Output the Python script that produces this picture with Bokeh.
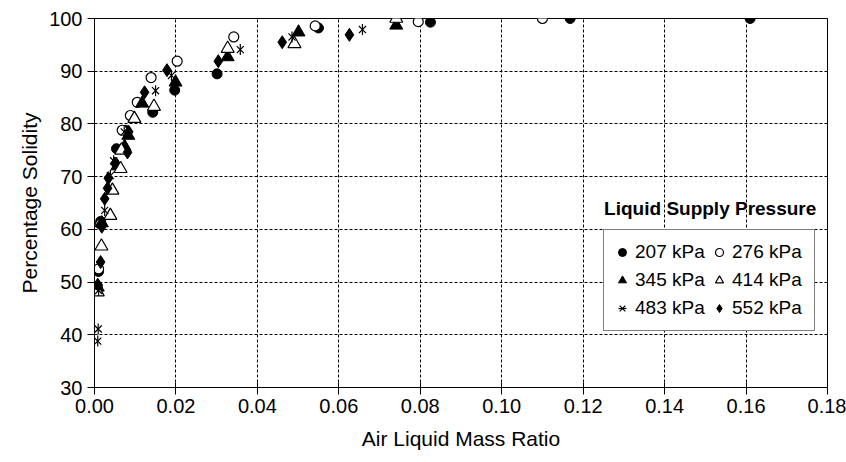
from bokeh.plotting import figure
from bokeh.models import Legend, LegendItem, Label, Range1d, FixedTicker, NumeralTickFormatter
from bokeh.embed import file_html
from bokeh.resources import INLINE
import math

# ---- data ----
x_207 = [0.0007, 0.0010, 0.0015, 0.0054, 0.0076, 0.0143, 0.0197, 0.0301, 0.0550, 0.0825, 0.1168, 0.1610]
y_207 = [49.2, 52.0, 61.5, 75.3, 78.8, 82.2, 86.4, 89.5, 98.2, 99.3, 100.0, 100.0]

x_276 = [0.0010, 0.0015, 0.0068, 0.0088, 0.0105, 0.0139, 0.0203, 0.0342, 0.0542, 0.0795, 0.1100]
y_276 = [52.5, 61.0, 78.8, 81.6, 84.1, 88.8, 91.9, 96.5, 98.6, 99.4, 100.0]

x_345 = [0.0008, 0.0018, 0.0056, 0.0074, 0.0083, 0.0117, 0.0199, 0.0327, 0.0501, 0.0741]
y_345 = [49.0, 61.2, 72.0, 75.7, 77.8, 83.9, 87.9, 92.7, 97.4, 98.7]

x_414 = [0.0008, 0.0017, 0.0039, 0.0044, 0.0064, 0.0066, 0.0098, 0.0146, 0.0327, 0.0491, 0.0741]
y_414 = [48.1, 56.8, 62.6, 67.4, 71.5, 75.0, 81.0, 83.3, 94.3, 95.2, 100.0]

x_483 = [0.0008, 0.0009, 0.0010, 0.0025, 0.0039, 0.0047, 0.0073, 0.0150, 0.0189, 0.0358, 0.0485, 0.0658]
y_483 = [38.8, 41.1, 48.4, 63.6, 70.2, 73.0, 78.5, 86.3, 89.2, 94.1, 96.5, 97.9]

x_552 = [0.0008, 0.0015, 0.0018, 0.0025, 0.0032, 0.0034, 0.0050, 0.0081, 0.0084, 0.0123, 0.0178, 0.0304, 0.0461, 0.0626]
y_552 = [49.5, 53.8, 60.5, 65.8, 67.8, 69.7, 72.5, 74.6, 78.5, 86.0, 90.2, 91.9, 95.5, 96.9]

x_ticks = [0.00, 0.02, 0.04, 0.06, 0.08, 0.10, 0.12, 0.14, 0.16, 0.18]
y_ticks = [30, 40, 50, 60, 70, 80, 90, 100]

FONT = "Liberation Sans"

p = figure(width=846, height=462, output_backend="svg", toolbar_location=None,
           x_range=Range1d(0, 0.18), y_range=Range1d(30, 100),
           min_border_left=94, min_border_right=19, min_border_top=18, min_border_bottom=75)
p.background_fill_color = "white"
p.border_fill_color = "white"
p.outline_line_color = "black"
p.outline_line_width = 1

p.xaxis.ticker = FixedTicker(ticks=x_ticks)
p.yaxis.ticker = FixedTicker(ticks=y_ticks)
p.xaxis.formatter = NumeralTickFormatter(format="0.00")
p.xaxis.minor_tick_line_color = None
p.yaxis.minor_tick_line_color = None

for ax in (p.xaxis, p.yaxis):
    ax.axis_line_color = "black"
    ax.major_tick_line_color = "black"
    ax.major_label_text_font = FONT
    ax.major_label_text_font_size = "20px"
    ax.major_label_text_color = "black"
    ax.axis_label_text_font = FONT
    ax.axis_label_text_font_size = "21px"
    ax.axis_label_text_font_style = "normal"
    ax.axis_label_text_color = "black"

p.xaxis.major_tick_in = 5
p.xaxis.major_tick_out = 7
p.yaxis.major_tick_in = 0
p.yaxis.major_tick_out = 7
p.xaxis.major_label_standoff = 4
p.yaxis.major_label_standoff = 5
p.xaxis.axis_label_standoff = 11
p.yaxis.axis_label_standoff = 5
p.xaxis.axis_label = "Air Liquid Mass Ratio"
p.yaxis.axis_label = "Percentage Solidity"

p.xgrid.grid_line_color = "black"
p.ygrid.grid_line_color = "black"
p.xgrid.grid_line_dash = "3 2"
p.ygrid.grid_line_dash = "3 2"
p.xgrid.grid_line_width = 1
p.ygrid.grid_line_width = 1

S = 10
r207 = p.scatter(x_207, y_207, marker="circle", size=S, fill_color="black", line_color="black")
r276 = p.scatter(x_276, y_276, marker="circle", size=S, fill_color="white", line_color="black", line_width=1.2)
r345 = p.scatter(x_345, y_345, marker="triangle", size=S + 3, fill_color="black", line_color="black")
r414 = p.scatter(x_414, y_414, marker="triangle", size=S + 3, fill_color="white", line_color="black", line_width=1.2)
r483a = p.scatter(x_483, y_483, marker="x", size=S, line_color="black", line_width=1.2)
r483b = p.scatter(x_483, y_483, marker="dash", size=S + 1, angle=math.pi / 2, line_color="black", line_width=1.2)
r552 = p.scatter(x_552, y_552, marker="diamond", size=S + 3, fill_color="black", line_color="black")

# column-major order so that rows read 207/276, 345/414, 483/552
legend = Legend(items=[
    LegendItem(label="207 kPa", renderers=[r207]),
    LegendItem(label="345 kPa", renderers=[r345]),
    LegendItem(label="483 kPa", renderers=[r483a, r483b]),
    LegendItem(label="276 kPa", renderers=[r276]),
    LegendItem(label="414 kPa", renderers=[r414]),
    LegendItem(label="552 kPa", renderers=[r552]),
], ncols=2, location=(509, 56))
legend.border_line_color = "black"
legend.border_line_width = 1
legend.background_fill_color = "white"
legend.background_fill_alpha = 1
legend.label_text_font = FONT
legend.label_text_font_size = "19px"
legend.label_text_color = "black"
legend.padding = 8
legend.spacing = 0
legend.margin = 0
legend.glyph_width = 20
legend.glyph_height = 20
legend.label_height = 28
legend.label_width = 74
legend.label_standoff = 3
p.add_layout(legend, "center")

title = Label(x=0.1512, y=64.0, text="Liquid Supply Pressure", text_font=FONT,
              text_font_size="19px", text_font_style="bold", text_color="black",
              text_align="center", text_baseline="middle")
p.add_layout(title)

open("out.html", "w").write(file_html(p, INLINE))
